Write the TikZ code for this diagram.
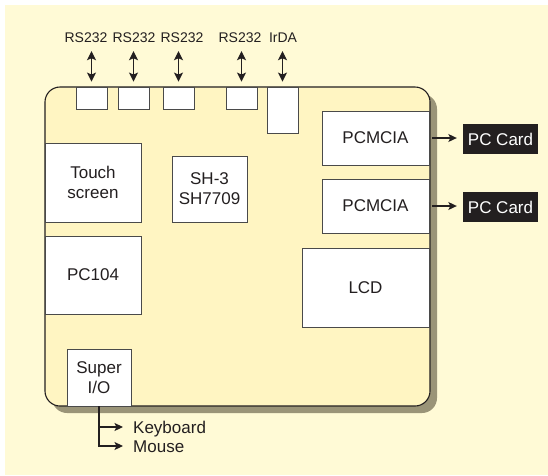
\documentclass[tikz,border=0pt]{standalone}
\usepackage{fontspec}
\setmainfont{Liberation Sans}
\usetikzlibrary{arrows.meta}
\definecolor{bgc}{HTML}{FFFAD6}
\definecolor{boardc}{HTML}{FFF5C2}
\definecolor{shadowc}{HTML}{9A9478}
\definecolor{inkc}{HTML}{231F20}
\definecolor{linec}{HTML}{4A4A4A}
\tikzset{
  box/.style={draw=linec, line width=0.9pt, fill=white, inner sep=0pt, align=center, text=inkc,
    font=\fontsize{17}{20}\selectfont},
  portlbl/.style={inner sep=0pt, text=inkc, font=\fontsize{14}{16}\selectfont, text height=10pt, text depth=0pt},
  side/.style={inner sep=0pt, text=inkc, font=\fontsize{17}{20}\selectfont, text height=12pt, text depth=0pt, anchor=west},
  card/.style={fill=inkc, text=white, inner sep=0pt, minimum width=75pt, minimum height=30pt,
    font=\fontsize{17}{20}\selectfont},
  arr/.style={line width=1.1pt, draw=inkc, -{Stealth[length=8.5pt,width=8pt,inset=2pt]}},
  darr/.style={line width=1.1pt, draw=inkc, {Stealth[length=9pt,width=9pt,inset=2pt]}-{Stealth[length=9pt,width=9pt,inset=2pt]}},
}
\begin{document}
\begin{tikzpicture}[x=1pt,y=-1pt]
\useasboundingbox (0,0) rectangle (548,475);
\fill[bgc] (5,5) rectangle (548,475);
% board shadow and board
\fill[shadowc, rounded corners=15pt] (52,94) rectangle (437,413);
\draw[fill=boardc, draw=inkc, line width=1.1pt, rounded corners=15pt] (45,87) rectangle (430,406);

% ports
\node[box, minimum width=31pt, minimum height=22pt] (p1) at (91.5,98) {};
\node[box, minimum width=31pt, minimum height=22pt] (p2) at (133.5,98) {};
\node[box, minimum width=31pt, minimum height=22pt] (p3) at (178.5,98) {};
\node[box, minimum width=31pt, minimum height=22pt] (p4) at (241.5,98) {};
\node[box, minimum width=31pt, minimum height=46pt] (p5) at (282.5,110) {};

\node[portlbl] (l1) at (86,37) {RS232};
\node[portlbl] (l2) at (134,37) {RS232};
\node[portlbl] (l3) at (182,37) {RS232};
\node[portlbl] (l4) at (240,37) {RS232};
\node[portlbl] (l5) at (283,37) {IrDA};

\draw[darr] ([yshift=-9pt]l1.south -| p1.north) -- ([yshift=5pt]p1.north);
\draw[darr] ([yshift=-9pt]l2.south -| p2.north) -- ([yshift=5pt]p2.north);
\draw[darr] ([yshift=-9pt]l3.south -| p3.north) -- ([yshift=5pt]p3.north);
\draw[darr] ([yshift=-9pt]l4.south -| p4.north) -- ([yshift=5pt]p4.north);
\draw[darr] ([yshift=-9pt]l5.south -| p5.north) -- ([yshift=5pt]p5.north);

% internal blocks
\node[box, minimum width=96pt, minimum height=79pt] (touch) at (93,182.5) {Touch\\screen};
\node[box, minimum width=96pt, minimum height=78pt] (pc104) at (93,275) {PC104};
\node[box, minimum width=75pt, minimum height=66pt] (sh) at (209.5,189) {SH-3\\SH7709};
\node[box, minimum width=107pt, minimum height=54pt] (pcm1) at (375.5,138) {PCMCIA};
\node[box, minimum width=107pt, minimum height=54pt] (pcm2) at (375.5,206) {PCMCIA};
\node[box, minimum width=127pt, minimum height=79pt] (lcd) at (365.5,287.5) {LCD};
\node[box, minimum width=64pt, minimum height=57pt] (sio) at (99,377.5) {Super\\I/O};

% PC cards
\node[card] (card1) at (500.5,139) {PC Card};
\node[card] (card2) at (500.5,207) {PC Card};
\draw[arr] ([xshift=3pt]pcm1.east) -- ([xshift=-6pt]pcm1.east -| card1.west);
\draw[arr] ([xshift=3pt]pcm2.east) -- ([xshift=-6pt]pcm2.east -| card2.west);

% keyboard / mouse
\node[side] (kbd) at (133,427) {Keyboard};
\node[side] (mouse) at (133,446) {Mouse};
\draw[arr] (sio.south) |- ([xshift=-10pt]kbd.west);
\draw[arr] (sio.south) |- ([xshift=-10pt]mouse.west);
\end{tikzpicture}
\end{document}
